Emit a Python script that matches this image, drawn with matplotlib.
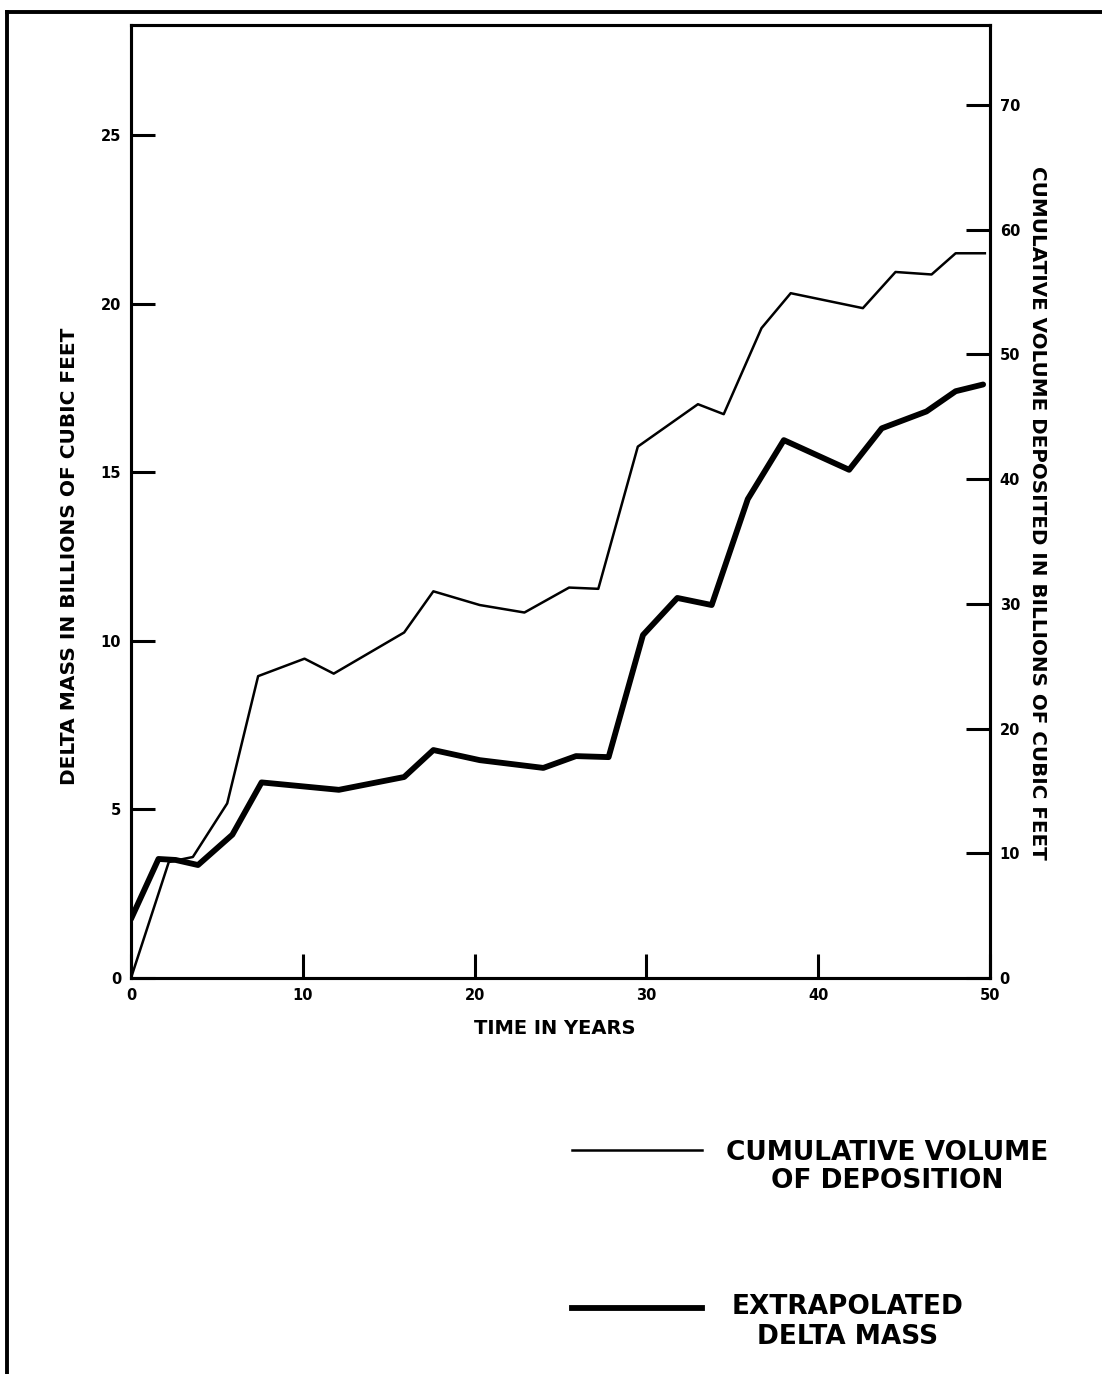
import matplotlib
matplotlib.use('Agg')
import matplotlib.pyplot as plt
from matplotlib.lines import Line2D

# extrapolated delta mass (left axis, billions of cubic feet)
years_mass = [0, 1.6, 2.6, 3.9, 5.9, 7.6, 12.1, 15.9, 17.6, 20.3, 24.0, 25.9,
              27.8, 29.8, 31.8, 33.8, 35.9, 38.0, 41.8, 43.7, 46.3, 48.0, 49.6]
delta_mass = [1.75, 3.53, 3.5, 3.35, 4.25, 5.8, 5.58, 5.96, 6.76, 6.46, 6.23, 6.58,
              6.55, 10.17, 11.27, 11.06, 14.2, 15.95, 15.07, 16.3, 16.8, 17.4, 17.6]

# cumulative volume of deposition (right axis, billions of cubic feet)
years_vol = [0, 2.2, 3.6, 5.6, 7.4, 10.1, 11.8, 15.9, 17.6, 20.3, 22.9, 25.5,
             27.2, 29.5, 33.0, 34.5, 36.7, 38.4, 42.6, 44.5, 46.6, 48.0, 49.7]
cum_volume = [0, 9.3, 9.7, 14.0, 24.2, 25.6, 24.4, 27.7, 31.0, 29.9, 29.3, 31.3,
              31.2, 42.6, 46.0, 45.2, 52.1, 54.9, 53.7, 56.6, 56.4, 58.1, 58.1]

x_ticks = [0, 10, 20, 30, 40, 50]
left_ticks = [0, 5, 10, 15, 20, 25]
right_ticks = [0, 10, 20, 30, 40, 50, 60, 70]

plt.rcParams['font.family'] = 'DejaVu Sans'
W, H = 1102, 1374

fig = plt.figure(figsize=(W / 100, H / 100), dpi=100)
ax = fig.add_axes([131 / W, 1 - 978 / H, (990 - 131) / W, (978 - 25) / H])
ax2 = ax.twinx()

ax.plot(years_mass, delta_mass, color='black', lw=4.2,
        solid_joinstyle='round', solid_capstyle='round')
ax2.plot(years_vol, cum_volume, color='black', lw=1.8)

ax.set_xlim(0, 50)
ax.set_ylim(0, 28.26)
ax2.set_ylim(0, 76.4)

ax.set_xticks(x_ticks)
ax.set_yticks(left_ticks)
ax2.set_yticks(right_ticks)

for a in (ax, ax2):
    for s in a.spines.values():
        s.set_linewidth(2.2)
    a.tick_params(direction='in', length=17, width=2.2, labelsize=10.5, pad=7)
    for lab in a.get_xticklabels() + a.get_yticklabels():
        lab.set_fontweight('bold')

# axis titles
fig.text(70 / W, 1 - 556 / H, 'DELTA MASS IN BILLIONS OF CUBIC FEET',
         rotation=90, ha='center', va='center', fontsize=14.5, weight='bold')
fig.text(1037 / W, 1 - 513 / H, 'CUMULATIVE VOLUME DEPOSITED IN BILLIONS OF CUBIC FEET',
         rotation=-90, ha='center', va='center', fontsize=14.3, weight='bold')
fig.text(555 / W, 1 - 1028 / H, 'TIME IN YEARS',
         ha='center', va='center', fontsize=14, weight='bold')

# legend drawn by hand
fig.add_artist(Line2D([572 / W, 702 / W], [1 - 1150 / H] * 2, color='black', lw=1.8))
fig.add_artist(Line2D([572 / W, 702 / W], [1 - 1308 / H] * 2, color='black', lw=4.2))
fig.text(887 / W, 1 - 1167 / H, 'CUMULATIVE VOLUME\nOF DEPOSITION',
         ha='center', va='center', fontsize=19, weight='bold', linespacing=1.15)
fig.text(848 / W, 1 - 1322 / H, 'EXTRAPOLATED\nDELTA MASS',
         ha='center', va='center', fontsize=19, weight='bold', linespacing=1.15)

# page border
fig.add_artist(Line2D([7 / W, 1], [1 - 12 / H] * 2, color='black', lw=2.8))
fig.add_artist(Line2D([7 / W, 7 / W], [0, 1 - 12 / H], color='black', lw=2.8))

fig.savefig('out.png', dpi=100)
